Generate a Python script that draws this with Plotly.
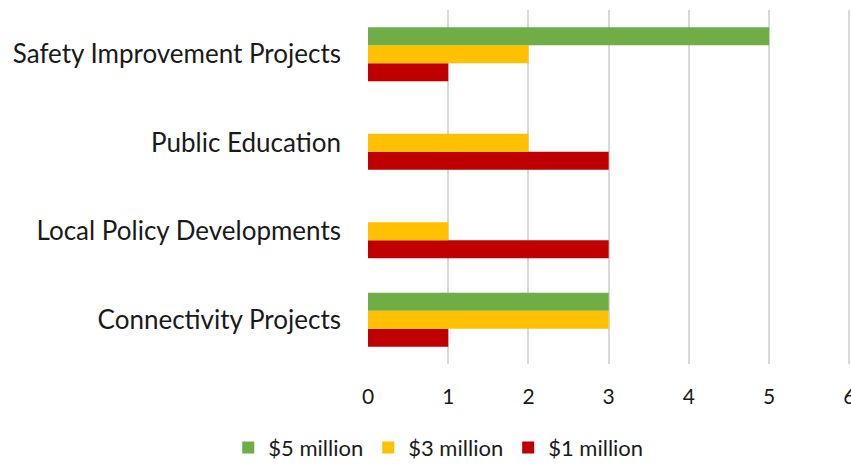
import plotly.graph_objects as go

categories = ["Connectivity Projects", "Local Policy Developments",
              "Public Education", "Safety Improvement Projects"]
series_names = ["$5 million", "$3 million", "$1 million"]
values_5m = [3, 0, 0, 5]
values_3m = [3, 1, 2, 2]
values_1m = [1, 3, 3, 1]
colors = {"$5 million": "#70AD47", "$3 million": "#FFC000", "$1 million": "#C00000"}
x_ticks = [0, 1, 2, 3, 4, 5, 6]

fig = go.Figure()
# Traces added bottom-up so the $5 million bar sits on top of each group
for name, vals, rank in [("$1 million", values_1m, 3),
                         ("$3 million", values_3m, 2),
                         ("$5 million", values_5m, 1)]:
    fig.add_trace(go.Bar(
        y=categories, x=vals, name=name, orientation="h",
        marker=dict(color=colors[name], line=dict(width=0)),
        legendrank=rank,
    ))

font_family = "Lato, 'Open Sans', sans-serif"
fig.update_layout(
    width=851, height=464,
    margin=dict(l=368, r=0, t=10, b=100, autoexpand=False),
    paper_bgcolor="white", plot_bgcolor="white",
    barmode="group", bargap=0.39, bargroupgap=0,
    font=dict(family=font_family, color="#1a1a1a"),
    showlegend=True,
    legend=dict(
        orientation="h", xref="container", yref="container",
        x=0.515, xanchor="center", y=0.035, yanchor="middle",
        font=dict(size=22, color="#1a1a1a"),
        itemwidth=30, tracegroupgap=0,
    ),
    xaxis=dict(
        range=[0, 6.02], tickvals=x_ticks, showgrid=True,
        gridcolor="#d9d9d9", gridwidth=1.5, zeroline=False,
        showline=False, ticks="", ticklabelstandoff=18,
        ticklabeloverflow="allow",
        tickfont=dict(size=21, color="#1a1a1a"),
    ),
    yaxis=dict(
        type="category", categoryorder="array", categoryarray=categories,
        showgrid=False, zeroline=False, showline=False, ticks="",
        ticklabelstandoff=26,
        tickfont=dict(size=26, color="#1a1a1a"),
    ),
)

fig.write_html("out.html")
